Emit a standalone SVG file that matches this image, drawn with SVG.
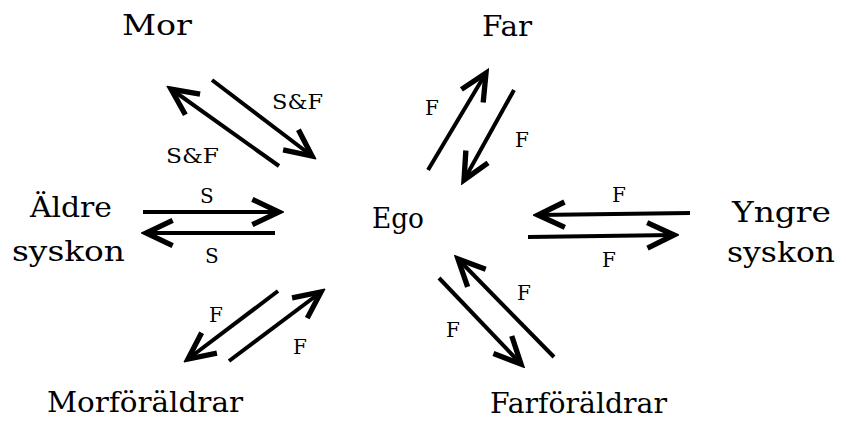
<svg xmlns="http://www.w3.org/2000/svg" width="846" height="421" viewBox="0 0 846 421">
<style>
.n{font-family:'DejaVu Serif','Liberation Serif',serif;font-size:28px;fill:#000}
.l{font-family:'DejaVu Serif','Liberation Serif',serif;font-size:20px;fill:#000}
.c line{stroke:#000;stroke-width:4;marker-end:url(#ah)}
</style>
<defs>
<marker id="ah" markerUnits="userSpaceOnUse" markerWidth="40" markerHeight="40" viewBox="-26 -14 30 28" refX="0" refY="0" orient="auto">
<path d="M-20,-9.5 L0,0 L-20,9.5" fill="none" stroke="#000" stroke-width="4"/>
</marker>
</defs>
<rect width="846" height="421" fill="#fff"/>
<g id="mor"><text class="n" x="122" y="35" textLength="70" lengthAdjust="spacingAndGlyphs">Mor</text></g>
<g id="far"><text class="n" x="482" y="36" textLength="50" lengthAdjust="spacingAndGlyphs">Far</text></g>
<g id="ego"><text class="n" x="372" y="228" textLength="52" lengthAdjust="spacingAndGlyphs">Ego</text></g>
<g id="aldre"><text class="n" x="30" y="217" textLength="82" lengthAdjust="spacingAndGlyphs">Äldre</text><text class="n" x="12" y="261" textLength="113" lengthAdjust="spacingAndGlyphs">syskon</text></g>
<g id="yngre"><text class="n" x="732" y="222" textLength="99" lengthAdjust="spacingAndGlyphs">Yngre</text><text class="n" x="727" y="262" textLength="108" lengthAdjust="spacingAndGlyphs">syskon</text></g>
<g id="morforaldrar"><text class="n" x="47" y="412" textLength="196" lengthAdjust="spacingAndGlyphs">Morföräldrar</text></g>
<g id="farforaldrar"><text class="n" x="490" y="413" textLength="177" lengthAdjust="spacingAndGlyphs">Farföräldrar</text></g>
<g id="connectors" class="c">
<line x1="279" y1="166" x2="171" y2="89"/>
<line x1="212" y1="80" x2="312" y2="156"/>
<line x1="428" y1="170" x2="486" y2="73"/>
<line x1="514" y1="90" x2="464" y2="180"/>
<line x1="143" y1="212" x2="279" y2="212"/>
<line x1="275" y1="233" x2="146" y2="233"/>
<line x1="690" y1="213" x2="538" y2="215"/>
<line x1="528" y1="237" x2="674" y2="235"/>
<line x1="278" y1="291" x2="188" y2="359"/>
<line x1="229" y1="361" x2="321" y2="292"/>
<line x1="554" y1="357" x2="458" y2="259"/>
<line x1="439" y1="278" x2="521" y2="364"/>
</g>
<g id="labels">
<text class="l" x="272" y="109" textLength="51" lengthAdjust="spacingAndGlyphs">S&amp;F</text>
<text class="l" x="166" y="163" textLength="53" lengthAdjust="spacingAndGlyphs">S&amp;F</text>
<text class="l" x="425" y="115">F</text>
<text class="l" x="515" y="147">F</text>
<text class="l" x="200" y="203">S</text>
<text class="l" x="205" y="263">S</text>
<text class="l" x="612" y="202">F</text>
<text class="l" x="602" y="267">F</text>
<text class="l" x="209" y="322">F</text>
<text class="l" x="293" y="354">F</text>
<text class="l" x="517" y="300">F</text>
<text class="l" x="446" y="337">F</text>
</g>
</svg>
